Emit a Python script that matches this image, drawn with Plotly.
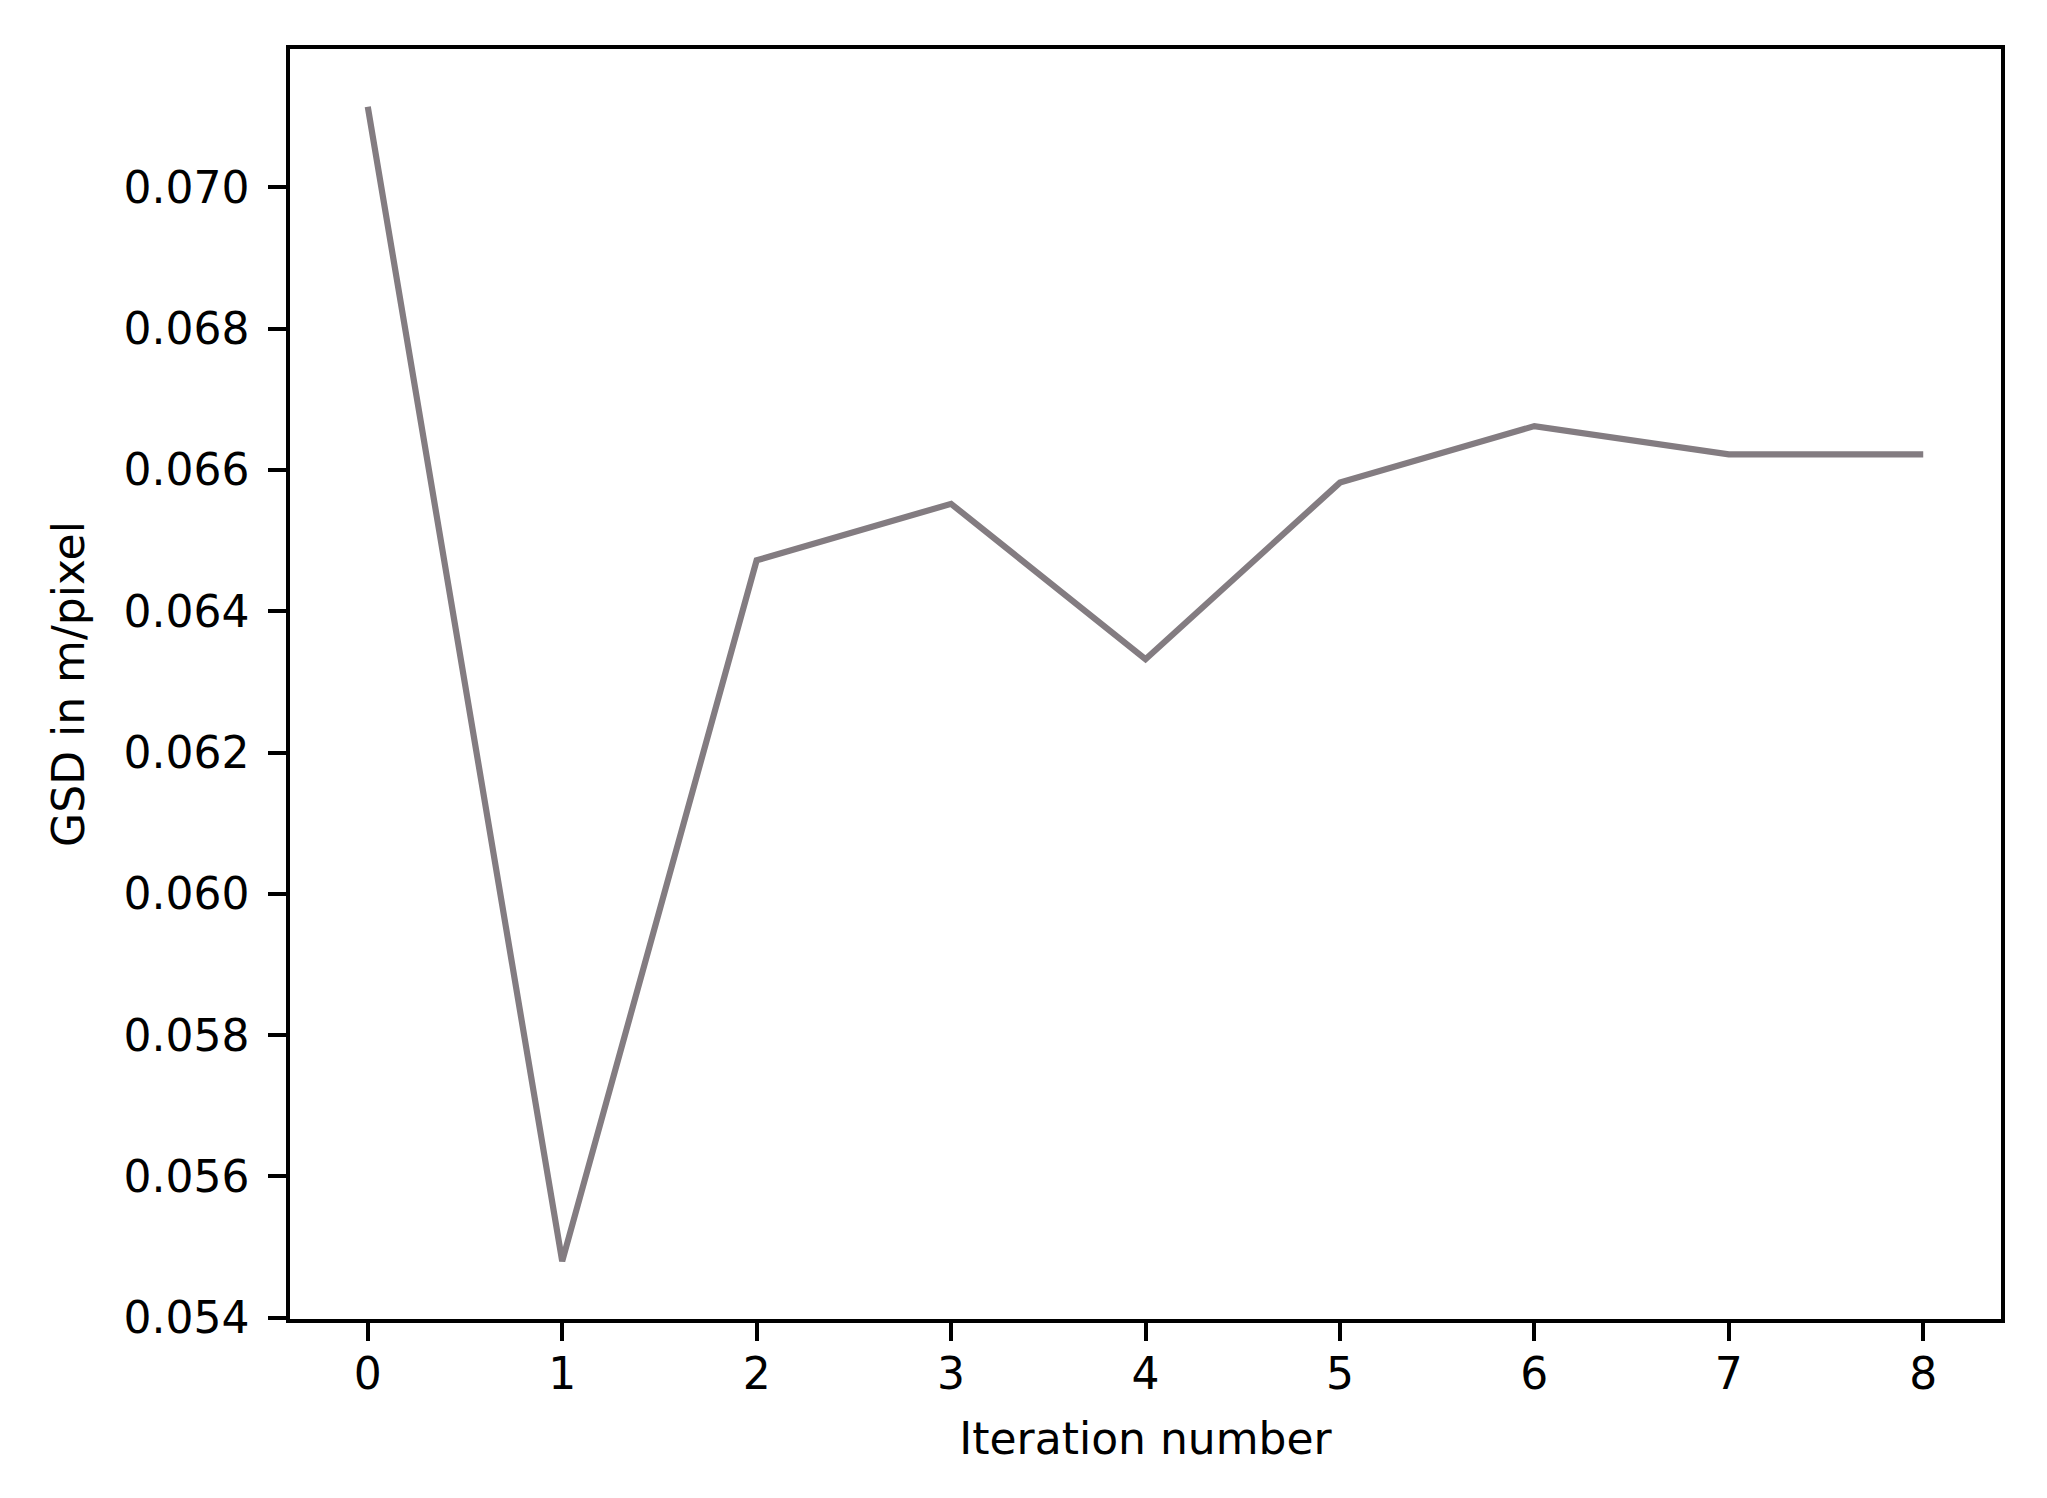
import plotly.graph_objects as go

iterations = [0, 1, 2, 3, 4, 5, 6, 7, 8]
gsd = [0.07114, 0.05480, 0.06472, 0.06552, 0.06332, 0.06582, 0.06662, 0.06622, 0.06622]
y_ticks = [0.054, 0.056, 0.058, 0.060, 0.062, 0.064, 0.066, 0.068, 0.070]
y_tick_labels = ["0.054", "0.056", "0.058", "0.060", "0.062", "0.064", "0.066", "0.068", "0.070"]
x_title = "Iteration number"
y_title = "GSD in m/pixel"

font = dict(family="DejaVu Sans", size=44, color="black")

fig = go.Figure()
fig.add_trace(go.Scatter(x=iterations, y=gsd, mode="lines",
                         line=dict(color="#837c81", width=6.2),
                         showlegend=False))

span = max(gsd) - min(gsd)
fig.update_layout(
    width=2047, height=1498,
    paper_bgcolor="white", plot_bgcolor="white",
    margin=dict(l=282, r=54, t=41, b=187, autoexpand=False),
    font=font,
)
fig.update_xaxes(
    range=[-0.4, 8.4], tickmode="array", tickvals=iterations,
    ticktext=[str(i) for i in iterations],
    showgrid=False, zeroline=False,
    showline=True, linecolor="black", linewidth=3.5, mirror=True,
    ticks="outside", ticklen=18, tickwidth=3.5, tickcolor="black",
    tickfont=font, ticklabelstandoff=-5,
    title=dict(text=x_title, font=font, standoff=27),
)
fig.update_yaxes(
    range=[min(gsd) - 0.05 * span, max(gsd) + 0.05 * span],
    tickmode="array", tickvals=y_ticks, ticktext=y_tick_labels,
    showgrid=False, zeroline=False,
    showline=True, linecolor="black", linewidth=3.5, mirror=True,
    ticks="outside", ticklen=18, tickwidth=3.5, tickcolor="black",
    tickfont=font, ticklabelstandoff=10,
    title=dict(text=y_title, font=font, standoff=26),
)
fig.write_html("out.html")
